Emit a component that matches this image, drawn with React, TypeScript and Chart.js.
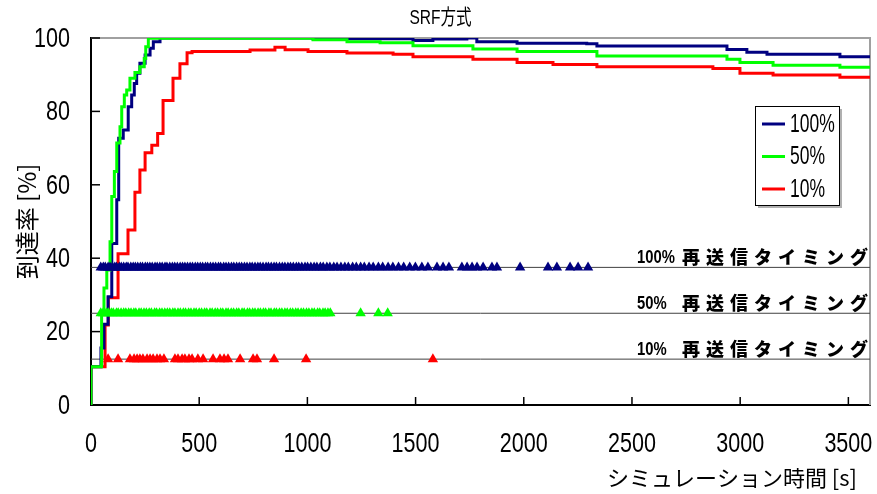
import React, { useEffect, useRef } from "react";
import { Chart, registerables } from "chart.js";

Chart.register(...registerables);

const TITLE = "SRF方式";
const X_TITLE = "シミュレーション時間 [s]";
const Y_TITLE = "到達率 [%]";
const X_TICKS = [0, 500, 1000, 1500, 2000, 2500, 3000, 3500];
const Y_TICKS = [0, 20, 40, 60, 80, 100];
const X_MAX = 3600;

const SERIES_LABELS = ["100%", "50%", "10%"];
const SERIES_COLORS = ["#000080", "#00ff00", "#ff0000"];

// 100% series (time [s], arrival rate [%]) - value becomes v at time t
const T100 = [0, 0, 46, 60, 79, 96, 119, 128, 149, 172, 188, 200, 211, 226, 250, 273, 288, 319, 1026, 1488, 1580, 1737, 1783, 1969, 2291, 2338, 2939, 3031, 3124, 3461, 3600];
const V100 = [0, 10.4, 15.5, 22, 29.5, 44, 55.9, 72.7, 74.9, 81.3, 84.5, 87.6, 90.4, 93.1, 95.4, 97.2, 99, 100, 99.8, 99.3, 99.7, 100, 99, 98.6, 98.4, 97.8, 96.9, 96.1, 95.6, 94.9, 94.9];

// 50% series
const T50 = [0, 0, 49, 60, 73, 88, 96, 108, 119, 134, 142, 154, 165, 180, 203, 226, 246, 253, 265, 1026, 1183, 1336, 1488, 1765, 1969, 2338, 2939, 2999, 3152, 3461, 3600];
const V50 = [0, 10.4, 25, 31.9, 36.8, 44.5, 56.8, 63.6, 71.4, 75.8, 81.3, 84.5, 85.8, 89, 90.6, 92.2, 94.4, 97.6, 99.9, 99.5, 99, 98.7, 97.9, 97, 96.3, 95.1, 94.2, 93.3, 92.6, 92, 92];

// 10% series
const T10 = [0, 0, 65, 80, 125, 171, 203, 226, 250, 281, 308, 333, 379, 411, 444, 467, 735, 850, 897, 1003, 1183, 1396, 1488, 1765, 1969, 2135, 2338, 2874, 2999, 3152, 3461, 3600];
const V10 = [0, 10.4, 21.8, 29.2, 41.2, 47.7, 58, 64, 68.7, 70.8, 74, 83, 89, 93, 96, 96.3, 96.7, 97.5, 96.8, 96.3, 95.9, 95.6, 94.9, 94.2, 93.3, 92.8, 92.2, 91.7, 90.4, 89.9, 89.3, 89.3];

// Retransmission timing markers
const TIMING_LABELS = ["100% 再送信タイミング", "50% 再送信タイミング", "10% 再送信タイミング"];
const TIMING_LEVELS = [37.5, 25, 12.5];
const TIMING_100 = [45, 57, 66, 79, 88, 99, 110, 118, 131, 140, 151, 163, 171, 184, 195, 205, 216, 228, 238, 251, 261, 272, 283, 296, 306, 318, 329, 342, 351, 364, 376, 387, 399, 412, 423, 434, 446, 458, 469, 482, 493, 505, 516, 529, 539, 552, 564, 576, 589, 599, 613, 624, 636, 649, 660, 673, 685, 696, 709, 721, 734, 745, 758, 771, 782, 795, 809, 820, 833, 846, 857, 871, 884, 896, 910, 922, 935, 949, 960, 974, 989, 1001, 1016, 1031, 1044, 1060, 1073, 1090, 1104, 1122, 1137, 1155, 1173, 1189, 1209, 1226, 1246, 1263, 1285, 1304, 1328, 1348, 1373, 1395, 1421, 1445, 1473, 1499, 1529, 1557, 1599, 1627, 1654, 1714, 1738, 1761, 1784, 1812, 1853, 1876, 1983, 2112, 2153, 2214, 2251, 2297];
const TIMING_50 = [45, 56, 71, 80, 94, 103, 118, 126, 139, 151, 161, 174, 185, 198, 207, 222, 232, 245, 256, 269, 279, 294, 303, 317, 328, 341, 353, 364, 378, 388, 402, 413, 427, 437, 451, 462, 476, 486, 500, 511, 525, 535, 550, 560, 574, 585, 599, 609, 624, 634, 648, 659, 673, 683, 698, 708, 723, 733, 747, 758, 772, 783, 797, 807, 822, 832, 847, 857, 871, 882, 896, 907, 921, 932, 946, 957, 971, 982, 996, 1007, 1021, 1032, 1047, 1057, 1072, 1082, 1095, 1106, 1246, 1328, 1371];
const TIMING_10 = [79, 125, 180, 199, 213, 226, 240, 259, 273, 287, 305, 319, 337, 388, 402, 421, 434, 453, 467, 494, 518, 564, 596, 615, 633, 689, 749, 767, 846, 994, 1580];

const SANS = "'Liberation Sans', Arial, sans-serif";
const JP = "'Noto Sans CJK JP', sans-serif";

const zip = (t: number[], v: number[]) => t.map((x, i) => ({ x, y: v[i] }));
const marks = (t: number[], level: number) => t.map((x) => ({ x, y: level }));

function squeezed(ctx: CanvasRenderingContext2D, text: string, x: number, y: number, sx: number, align: CanvasTextAlign) {
  ctx.save();
  ctx.translate(x, y);
  ctx.scale(sx, 1);
  ctx.textAlign = align;
  ctx.fillText(text, 0, 0);
  ctx.restore();
}

const decor = {
  id: "decor",
  beforeDatasetsDraw(chart: any) {
    const { ctx, chartArea: a } = chart;
    ctx.save();
    ctx.strokeStyle = "#a0a0a0";
    ctx.lineWidth = 2;
    ctx.beginPath();
    ctx.moveTo(a.left, a.top);
    ctx.lineTo(a.right, a.top);
    ctx.lineTo(a.right, a.bottom);
    ctx.stroke();
    ctx.strokeStyle = "#000";
    ctx.lineWidth = 1.5;
    const xs = chart.scales.x;
    const ys = chart.scales.y;
    X_TICKS.forEach((v) => {
      const px = xs.getPixelForValue(v);
      ctx.beginPath();
      ctx.moveTo(px, a.bottom);
      ctx.lineTo(px, a.bottom - 8);
      ctx.stroke();
    });
    Y_TICKS.forEach((v) => {
      const py = ys.getPixelForValue(v);
      ctx.beginPath();
      ctx.moveTo(a.left, py);
      ctx.lineTo(a.left + 9, py);
      ctx.stroke();
    });
    // tick labels
    ctx.fillStyle = "#000";
    ctx.font = `28px ${SANS}`;
    ctx.textBaseline = "middle";
    X_TICKS.forEach((v) => {
      squeezed(ctx, String(v), xs.getPixelForValue(v), a.bottom + 39, 0.77, "center");
    });
    Y_TICKS.forEach((v) => {
      squeezed(ctx, String(v), a.left - 21, ys.getPixelForValue(v) + 1, 0.77, "right");
    });
    // title
    ctx.font = `21px 'Liberation Sans', 'Noto Sans CJK JP', sans-serif`;
    squeezed(ctx, TITLE, chart.width / 2 + 2, 18, 0.74, "center");
    ctx.restore();
  },
  afterDraw(chart: any) {
    const { ctx, chartArea: a } = chart;
    const ys = chart.scales.y;
    ctx.save();
    // timing labels
    ctx.fillStyle = "#000";
    ctx.textBaseline = "alphabetic";
    TIMING_LABELS.forEach((label, i) => {
      const py = ys.getPixelForValue(TIMING_LEVELS[i]) - 4;
      const [prefix, jp] = label.split(" ");
      const rightEnd = a.right - 2;
      ctx.font = `bold 19px ${SANS}`;
      squeezed(ctx, prefix, rightEnd - 231, py, 0.78, "left");
      ctx.font = `900 18px ${JP}`;
      const chars = Array.from(jp);
      ctx.textAlign = "center";
      chars.forEach((c, k) => {
        const cx = rightEnd - 9 - (chars.length - 1 - k) * 24;
        ctx.fillText(c, cx, py + 1);
      });
    });
    // legend
    const lx = a.right - 115;
    const ly = 106;
    const lw = 84;
    const lh = 99;
    ctx.fillStyle = "#b0b0b0";
    ctx.fillRect(lx + 3, ly + 3, lw, lh);
    ctx.fillStyle = "#fff";
    ctx.fillRect(lx, ly, lw, lh);
    ctx.strokeStyle = "#000";
    ctx.lineWidth = 1;
    ctx.strokeRect(lx + 0.5, ly + 0.5, lw, lh);
    SERIES_LABELS.forEach((lab, i) => {
      const ry = ly + 18 + i * 32.5;
      ctx.strokeStyle = SERIES_COLORS[i];
      ctx.lineWidth = 3;
      ctx.beginPath();
      ctx.moveTo(lx + 7, ry);
      ctx.lineTo(lx + 30, ry);
      ctx.stroke();
      ctx.fillStyle = "#000";
      ctx.font = `25px ${SANS}`;
      ctx.textBaseline = "middle";
      squeezed(ctx, lab, lx + 35, ry + 1, 0.7, "left");
    });
    // x title
    ctx.fillStyle = "#000";
    ctx.font = `22px ${JP}`;
    ctx.textAlign = "right";
    ctx.textBaseline = "alphabetic";
    ctx.fillText(X_TITLE, a.right - 13, 486);
    ctx.restore();
  },
};

export default function App() {
  const ref = useRef<HTMLCanvasElement | null>(null);
  useEffect(() => {
    document.body.style.margin = "0";
    if (!ref.current) return;
    const lineDs = (i: number, data: any[], order: number) => ({
      label: SERIES_LABELS[i],
      data,
      borderColor: SERIES_COLORS[i],
      backgroundColor: SERIES_COLORS[i],
      borderWidth: 3,
      pointRadius: 0,
      stepped: "before" as const,
      order,
    });
    const markDs = (i: number, t: number[], order: number) => ({
      label: TIMING_LABELS[i],
      data: marks(t, TIMING_LEVELS[i]),
      showLine: false,
      pointStyle: "triangle" as const,
      pointRadius: 6,
      pointBorderWidth: 0,
      pointBackgroundColor: SERIES_COLORS[i],
      pointBorderColor: SERIES_COLORS[i],
      borderColor: SERIES_COLORS[i],
      order,
    });
    const refDs = (i: number) => ({
      label: "ref" + i,
      data: [
        { x: 0, y: TIMING_LEVELS[i] },
        { x: X_MAX, y: TIMING_LEVELS[i] },
      ],
      borderColor: "#404040",
      borderWidth: 1,
      pointRadius: 0,
      order: 10,
    });
    const chart = new Chart(ref.current, {
      type: "line",
      data: {
        datasets: [
          markDs(0, TIMING_100, 0),
          markDs(1, TIMING_50, 1),
          markDs(2, TIMING_10, 2),
          lineDs(1, zip(T50, V50), 3),
          lineDs(0, zip(T100, V100), 4),
          lineDs(2, zip(T10, V10), 5),
          refDs(0),
          refDs(1),
          refDs(2),
        ] as any,
      },
      options: {
        animation: false,
        responsive: false,
        devicePixelRatio: 1,
        layout: { padding: { left: 0, right: 7, top: 38, bottom: 0 } },
        plugins: {
          legend: { display: false },
          tooltip: { enabled: false },
          title: { display: false },
        },
        scales: {
          x: {
            type: "linear",
            min: 0,
            max: X_MAX,
            grid: { display: false, drawTicks: false },
            border: { display: true, color: "#000", width: 2 },
            ticks: { display: false },
            afterBuildTicks: (s: any) => {
              s.ticks = X_TICKS.map((v) => ({ value: v }));
            },
            afterFit: (s: any) => {
              s.height = 89;
            },
          },
          y: {
            type: "linear",
            min: 0,
            max: 100,
            grid: { display: false, drawTicks: false },
            border: { display: true, color: "#000", width: 2 },
            ticks: { display: false },
            afterBuildTicks: (s: any) => {
              s.ticks = Y_TICKS.map((v) => ({ value: v }));
            },
            afterFit: (s: any) => {
              s.width = 91;
            },
            title: {
              display: true,
              text: Y_TITLE,
              color: "#000",
              font: { family: JP, size: 24 },
              padding: { top: 12, bottom: 0 },
            },
          },
        },
      },
      plugins: [decor],
    });
    return () => chart.destroy();
  }, []);
  return (
    <div style={{ width: 877, height: 494 }}>
      <canvas ref={ref} width={877} height={494} style={{ display: "block" }} />
    </div>
  );
}
